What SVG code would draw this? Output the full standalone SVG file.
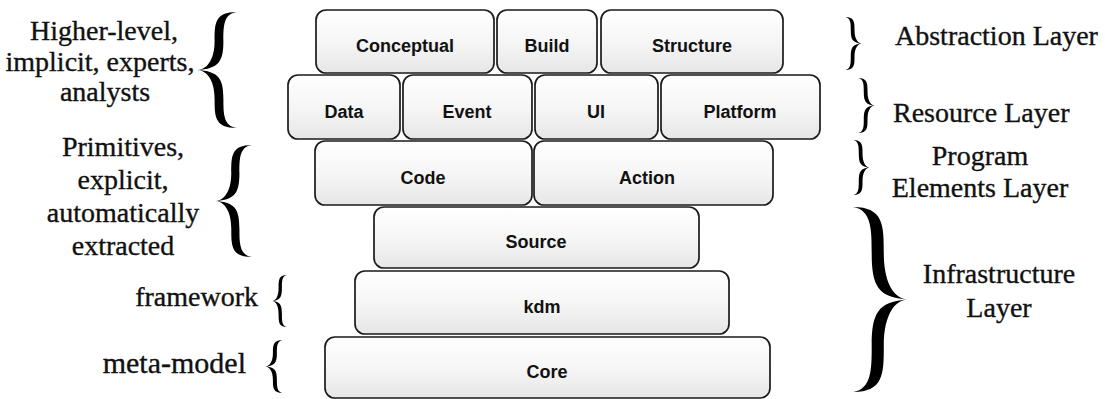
<svg xmlns="http://www.w3.org/2000/svg" xmlns:xlink="http://www.w3.org/1999/xlink" width="1105" height="399" viewBox="0 0 1105 399">
  <defs>
    <linearGradient id="boxFill" x1="0" y1="0" x2="0" y2="1">
      <stop offset="0" stop-color="#ffffff"/>
      <stop offset="0.5" stop-color="#f6f6f6"/>
      <stop offset="1" stop-color="#e6e6e6"/>
    </linearGradient>
    <!-- unit curly brace "{": tip at (0,1), ends at (1,0) and (1,2) -->
    <path id="brace" d="M1,0 C0.44,0 0.44,0.2 0.44,0.5 C0.44,0.85 0.22,1 0,1 C0.22,1 0.44,1.15 0.44,1.5 C0.44,1.8 0.44,2 1,2 C0.66,1.97 0.66,1.75 0.66,1.5 C0.66,1.15 0.55,1.02 0,1 C0.55,0.98 0.66,0.85 0.66,0.5 C0.66,0.25 0.66,0.03 1,0 Z"/>
  </defs>
  <style>
    .box { fill: url(#boxFill); stroke: #1a1a1a; stroke-width: 1.7; }
    .lbl { font-family: "Liberation Sans", Arial, sans-serif; font-weight: bold; font-size: 18px; fill: #111; text-anchor: middle; }
    .note { font-family: "Liberation Serif", "Times New Roman", serif; font-size: 28px; fill: #111; stroke: #111; stroke-width: 0.35; }
    .mid { text-anchor: middle; }
    .end { text-anchor: end; }
    .brace { fill: #000; }
  </style>

  <rect width="1105" height="399" fill="#ffffff"/>

  <!-- Abstraction layer -->
  <g id="conceptual"><rect class="box" x="316" y="10" width="178" height="63" rx="10"/><text class="lbl" x="405" y="52">Conceptual</text></g>
  <g id="build"><rect class="box" x="497" y="10" width="100" height="63" rx="10"/><text class="lbl" x="547" y="52">Build</text></g>
  <g id="structure"><rect class="box" x="601" y="10" width="182" height="63" rx="10"/><text class="lbl" x="692" y="52">Structure</text></g>

  <!-- Resource layer -->
  <g id="data"><rect class="box" x="288" y="75" width="112" height="64" rx="10"/><text class="lbl" x="344" y="118">Data</text></g>
  <g id="event"><rect class="box" x="403" y="75" width="129" height="64" rx="10"/><text class="lbl" x="467" y="118">Event</text></g>
  <g id="ui"><rect class="box" x="535" y="75" width="123" height="64" rx="10"/><text class="lbl" x="596" y="118">UI</text></g>
  <g id="platform"><rect class="box" x="661" y="75" width="159" height="64" rx="10"/><text class="lbl" x="740" y="118">Platform</text></g>

  <!-- Program elements layer -->
  <g id="code"><rect class="box" x="315" y="141" width="217" height="64" rx="10"/><text class="lbl" x="423" y="184">Code</text></g>
  <g id="action"><rect class="box" x="534" y="141" width="239" height="64" rx="10"/><text class="lbl" x="647" y="184">Action</text></g>

  <!-- Infrastructure layer -->
  <g id="source"><rect class="box" x="374" y="207" width="325" height="61" rx="10"/><text class="lbl" x="536" y="248">Source</text></g>
  <g id="kdm"><rect class="box" x="355" y="271" width="374" height="63" rx="10"/><text class="lbl" x="542" y="313">kdm</text></g>
  <g id="core"><rect class="box" x="325" y="337" width="445" height="61" rx="10"/><text class="lbl" x="547" y="378">Core</text></g>

  <!-- brackets grouping the layers -->
  <g id="connectors">
    <use class="brace" xlink:href="#brace" transform="translate(197,12) scale(40,58)"/>
    <use class="brace" xlink:href="#brace" transform="translate(215,145) scale(37,56)"/>
    <use class="brace" xlink:href="#brace" transform="translate(272,275) scale(15,26)"/>
    <use class="brace" xlink:href="#brace" transform="translate(265,340) scale(18,26.5)"/>
    <use class="brace" xlink:href="#brace" transform="translate(862,17) scale(-17,26.5)"/>
    <use class="brace" xlink:href="#brace" transform="translate(875,78) scale(-17,27.5)"/>
    <use class="brace" xlink:href="#brace" transform="translate(870,140) scale(-17,27.5)"/>
    <use class="brace" xlink:href="#brace" transform="translate(908,207) scale(-55,92.5)"/>
  </g>

  <!-- left-hand notes -->
  <g id="notes-left">
    <text class="note mid" x="104" y="40">Higher-level,</text>
    <text class="note mid" x="100" y="71">implicit, experts,</text>
    <text class="note mid" x="105" y="101">analysts</text>
    <text class="note mid" x="123" y="156">Primitives,</text>
    <text class="note mid" x="123" y="189">explicit,</text>
    <text class="note mid" x="123" y="222">automatically</text>
    <text class="note mid" x="123" y="255">extracted</text>
    <text class="note end" x="258" y="306">framework</text>
    <text class="note end" x="246" y="373" style="font-size:30px">meta-model</text>
  </g>

  <!-- right-hand layer names -->
  <g id="notes-right">
    <text class="note" x="895" y="45">Abstraction Layer</text>
    <text class="note" x="893" y="122">Resource Layer</text>
    <text class="note mid" x="980" y="165">Program</text>
    <text class="note mid" x="980" y="197">Elements Layer</text>
    <text class="note mid" x="999" y="283">Infrastructure</text>
    <text class="note mid" x="999" y="317">Layer</text>
  </g>
</svg>
